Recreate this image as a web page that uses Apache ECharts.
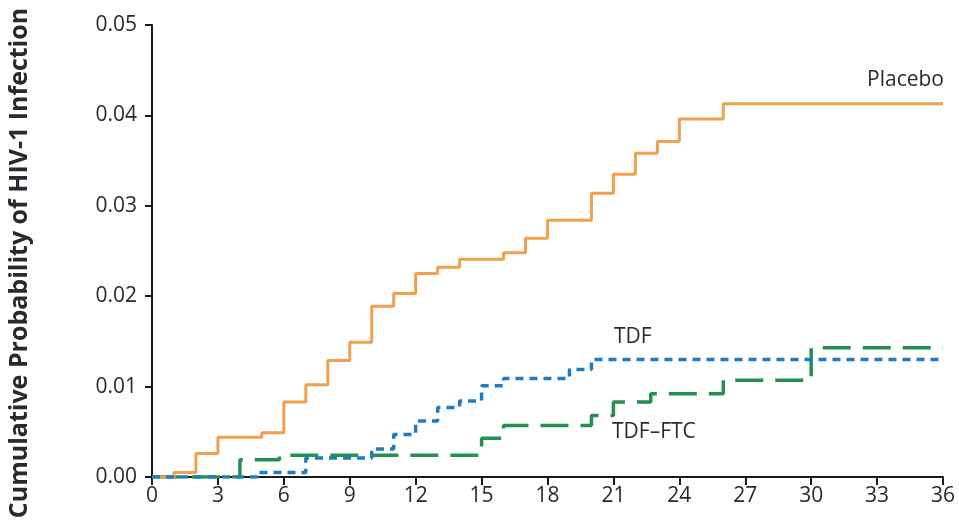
<!DOCTYPE html>
<html>
<head>
<meta charset="utf-8">
<script src="https://cdn.jsdelivr.net/npm/echarts@6/dist/echarts.min.js"></script>
<style>
html,body{margin:0;padding:0;background:#fff;}
#chart{width:959px;height:523px;}
</style>
</head>
<body>
<div id="chart"></div>
<script>
// Months (x) and cumulative probability (y); each value holds from its month onward
const xTicks = [0, 3, 6, 9, 12, 15, 18, 21, 24, 27, 30, 33, 36];
const yTicks = [0.00, 0.01, 0.02, 0.03, 0.04, 0.05];

const placeboMonths = [0, 1, 2, 3, 5, 6, 7, 8, 9, 10, 11, 12, 13, 14, 16, 17, 18, 20, 21, 22, 23, 24, 26, 36];
const placeboValues = [0, 0.0005, 0.0026, 0.0044, 0.0049, 0.0083, 0.0102, 0.0129, 0.0149, 0.0189, 0.0203, 0.0225, 0.0232, 0.0241, 0.0248, 0.0264, 0.0284, 0.0314, 0.0335, 0.0358, 0.0371, 0.0396, 0.0413, 0.0413];

const tdfMonths = [0, 4.8, 7, 10, 11, 12, 13, 14, 15, 16, 19, 20, 36];
const tdfValues = [0, 0.0005, 0.0021, 0.0031, 0.0047, 0.0062, 0.0077, 0.0084, 0.0101, 0.0109, 0.0119, 0.0130, 0.0130];

const ftcMonths = [0, 4, 5.8, 15, 16, 20, 21, 22.7, 26, 30, 36];
const ftcValues = [0, 0.0019, 0.0024, 0.0043, 0.0057, 0.0068, 0.0083, 0.0092, 0.0107, 0.0143, 0.0143];

const seriesNames = ['Placebo', 'TDF', 'TDF\u2013FTC'];
const yTitle = 'Cumulative Probability of HIV-1 Infection';

function pairs(xs, ys) { return xs.map((x, i) => [x, ys[i]]); }

const chart = echarts.init(document.getElementById('chart'), null, {renderer: 'canvas'});
const font = '"Open Sans", Lato, sans-serif';
const textColor = '#2b2930';

chart.setOption({
  animation: false,
  backgroundColor: '#fff',
  grid: {left: 152, right: 16, top: 25, bottom: 46},
  xAxis: {
    type: 'value', min: xTicks[0], max: xTicks[xTicks.length - 1], interval: 3,
    splitLine: {show: false},
    axisLine: {show: true, lineStyle: {color: '#1a1a1a', width: 2}},
    axisTick: {show: true, length: 8, lineStyle: {color: '#1a1a1a', width: 2}},
    axisLabel: {margin: 9, color: textColor, fontSize: 21, fontFamily: font}
  },
  yAxis: {
    type: 'value', min: yTicks[0], max: yTicks[yTicks.length - 1], interval: 0.01,
    splitLine: {show: false},
    axisLine: {show: true, lineStyle: {color: '#1a1a1a', width: 2}},
    axisTick: {show: true, length: 7, lineStyle: {color: '#1a1a1a', width: 2}},
    axisLabel: {margin: 15, color: textColor, fontSize: 21, fontFamily: font,
      formatter: v => v.toFixed(2)}
  },
  series: [
    {name: seriesNames[0], type: 'line', step: 'end', showSymbol: false, z: 3,
     lineStyle: {color: '#F2A04C', width: 3}, data: pairs(placeboMonths, placeboValues)},
    {name: seriesNames[1], type: 'line', step: 'end', showSymbol: false, z: 4,
     lineStyle: {color: '#1E7DC2', width: 3.5, type: [8, 6]}, data: pairs(tdfMonths, tdfValues)},
    {name: seriesNames[2], type: 'line', step: 'end', showSymbol: false, z: 2,
     lineStyle: {color: '#23904F', width: 3.5, type: [28, 12]}, data: pairs(ftcMonths, ftcValues)}
  ],
  graphic: [
    {type: 'text', x: 20, y: 263, rotation: Math.PI / 2,
     style: {text: yTitle, font: 'bold 25px ' + font, fill: textColor, textAlign: 'center', textVerticalAlign: 'middle'}},
    {type: 'text', x: 944, y: 80,
     style: {text: seriesNames[0], font: '21px ' + font, fill: textColor, textAlign: 'right', textVerticalAlign: 'middle'}},
    {type: 'text', x: 614, y: 337,
     style: {text: seriesNames[1], font: '21px ' + font, fill: textColor, textAlign: 'left', textVerticalAlign: 'middle'}},
    {type: 'text', x: 612, y: 432,
     style: {text: seriesNames[2], font: '21px ' + font, fill: textColor, textAlign: 'left', textVerticalAlign: 'middle'}}
  ]
});
</script>
</body>
</html>
